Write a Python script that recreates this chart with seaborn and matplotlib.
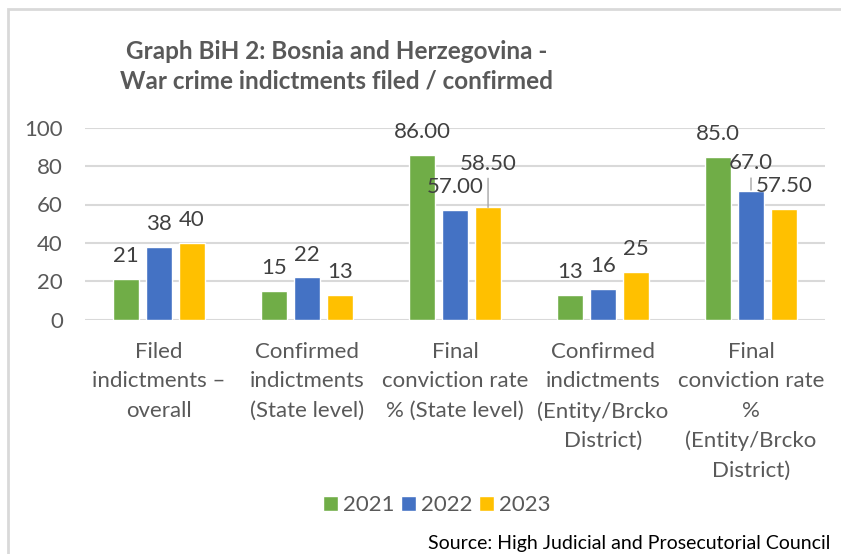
import matplotlib
matplotlib.use("Agg")
import matplotlib.pyplot as plt
import seaborn as sns
import pandas as pd
from matplotlib.patches import Rectangle

categories = [
    "Filed\nindictments –\noverall",
    "Confirmed\nindictments\n(State level)",
    "Final\nconviction rate\n% (State level)",
    "Confirmed\nindictments\n(Entity/Brcko\nDistrict)",
    "Final\nconviction rate\n%\n(Entity/Brcko\nDistrict)",
]
years = ["2021", "2022", "2023"]
values_2021 = [21, 15, 86.0, 13, 85.0]
values_2022 = [38, 22, 57.0, 16, 67.0]
values_2023 = [40, 13, 58.5, 25, 57.5]
labels_2021 = ["21", "15", "86.00", "13", "85.0"]
labels_2022 = ["38", "22", "57.00", "16", "67.0"]
labels_2023 = ["40", "13", "58.50", "25", "57.50"]
title = "Graph BiH 2: Bosnia and Herzegovina -\nWar crime indictments filed / confirmed"
source = "Source: High Judicial and Prosecutorial Council"

colors = ["#70AD47", "#4472C4", "#FFC000"]

rows = []
for y, vals in zip(years, [values_2021, values_2022, values_2023]):
    for c, v in zip(categories, vals):
        rows.append({"category": c, "year": y, "value": v})
df = pd.DataFrame(rows)

sns.set_theme(style="white")
plt.rcParams["font.family"] = ["Lato", "DejaVu Sans"]

FS = 16
TXT = "#595959"
LBL = "#404040"

fig = plt.figure(figsize=(8.41, 5.54), dpi=100)
ax = fig.add_axes([85 / 841, 1 - 319.7 / 554, 740 / 841, 192 / 554])

sns.barplot(data=df, x="category", y="value", hue="year", order=categories,
            hue_order=years, palette=colors, width=0.67, gap=0.21,
            saturation=1, ax=ax, legend=True)

ax.set_ylim(0, 100)
ax.set_xlim(-0.5, len(categories) - 0.5)
ax.set_yticks([0, 20, 40, 60, 80, 100])
ax.set_axisbelow(True)
ax.yaxis.grid(True, color="#d9d9d9", linewidth=1.5)
ax.xaxis.grid(False)
for s in ax.spines.values():
    s.set_visible(False)
ax.set_xlabel("")
ax.set_ylabel("")
ax.tick_params(axis="y", length=0, pad=16, labelsize=FS, labelcolor=TXT)
ax.tick_params(axis="x", length=0, pad=16, labelsize=FS, labelcolor=TXT)
for t in ax.get_xticklabels():
    t.set_linespacing(1.59)

# data labels
all_labels = [labels_2021, labels_2022, labels_2023]
# raised labels with leader lines: (hue index, category index): (extra raise pts, leader start pts, leader end pts)
raised = {(2, 2): (15.0, 20.9, 0.0), (1, 4): (3.5, 9.4, 0.7)}
for hi, cont in enumerate(ax.containers):
    for ci, bar in enumerate(cont):
        x = bar.get_x() + bar.get_width() / 2
        top = bar.get_height()
        extra = 0.0
        if (hi, ci) in raised:
            extra, l0, l1 = raised[(hi, ci)]
            ax.annotate("", xy=(x, top), xycoords="data",
                        xytext=(0, l0), textcoords="offset points",
                        arrowprops=dict(arrowstyle="-", color="#a6a6a6", lw=1.0,
                                        shrinkA=0, shrinkB=l1),
                        annotation_clip=False)
        ax.annotate(all_labels[hi][ci], xy=(x, top), xycoords="data",
                    xytext=(0, 12.2 + extra), textcoords="offset points",
                    ha="center", va="baseline", fontsize=FS, color=LBL,
                    annotation_clip=False)

# legend
handles, labs = ax.get_legend_handles_labels()
ax.get_legend().remove()
fig.legend(handles, labs, loc="center", bbox_to_anchor=(437 / 841, 1 - 505 / 554),
           ncol=3, frameon=False, fontsize=FS, labelcolor=TXT,
           handlelength=0.64, handleheight=0.64, handletextpad=0.25,
           columnspacing=0.3, borderaxespad=0, borderpad=0)

# title
fig.text(337 / 841, 1 - 66 / 554, title, ha="center", va="center",
         fontsize=17.5, fontweight="bold", color=TXT, linespacing=1.33)

# source
fig.text(830 / 841, 1 - 544 / 554, source, ha="right", va="center",
         fontsize=14, color="black")

# outer frame (left and top edges visible)
fig.patches.append(Rectangle((8 / 841, -0.05), 1.0, 1 - 9 / 554 + 0.05,
                             transform=fig.transFigure, fill=False,
                             edgecolor="#d9d9d9", linewidth=2))

fig.savefig("out.png", dpi=100)
